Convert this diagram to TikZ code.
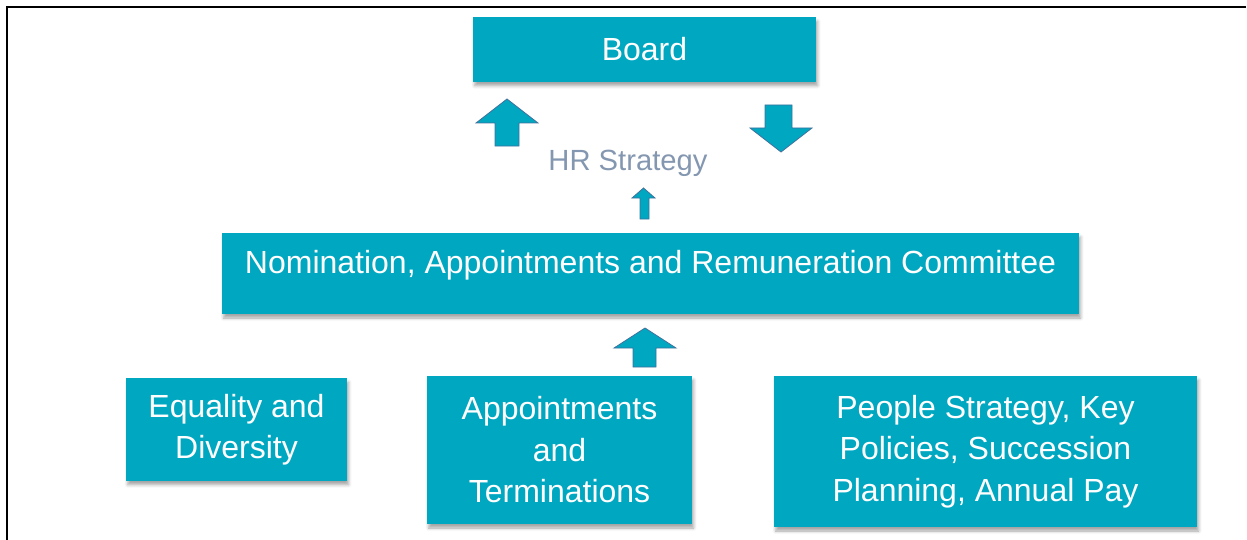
\documentclass[tikz,border=0pt]{standalone}
\usepackage{fontspec}
\setmainfont{Liberation Sans}
\usepackage{xcolor}
\usetikzlibrary{shadows.blur}
\definecolor{hrTeal}{RGB}{0, 167, 193}
\definecolor{hrEdge}{RGB}{65, 113, 156}
\definecolor{hrGrey}{RGB}{132, 151, 176}

\tikzset{
  hrbox/.style={fill=hrTeal,text=white,inner sep=0pt,align=center,
    font=\fontsize{16pt}{20.75pt}\selectfont,
    blur shadow={shadow xshift=0.8pt,shadow yshift=-2pt,shadow blur radius=1.5pt,shadow opacity=35}},
  blockarrow/.style={fill=hrTeal,draw=hrEdge,line width=0.4pt,line join=miter}
}

\begin{document}
\begin{tikzpicture}[x=0.5pt,y=-0.5pt]
            \useasboundingbox (0,0) rectangle (1247,540);
            % Frame
            \draw[line width=1pt] (7,540) -- (7,7.5) -- (1246,7.5);

            % Board
            \node[hrbox,minimum width=171.5pt,minimum height=32.25pt] (board) at (644.5,49.5) {Board};

            % HR Strategy
            \node[text=hrGrey,font=\fontsize{14.6pt}{17pt}\selectfont,anchor=base] (strategy) at (628,170) {HR Strategy};
            \filldraw[blockarrow] (507,99) -- (538,123) -- (519,123) -- (519,146) -- (495,146) -- (495,123) -- (476,123) -- cycle;
            \filldraw[blockarrow] (781,152) -- (812,128) -- (792,128) -- (792,105) -- (765,105) -- (765,128) -- (750,128) -- cycle;
            \filldraw[blockarrow] (643.5,188) -- (655,198) -- (649,198) -- (649,219) -- (640,219) -- (640,198) -- (632,198) -- cycle;

            % Committee
            \node[hrbox,minimum width=428.5pt,minimum height=40.5pt,text height=12pt,text depth=12pt] (committee) at (650.5,273.5) {Nomination, Appointments and Remuneration Committee};
            \filldraw[blockarrow] (645,328) -- (676,348) -- (656,348) -- (656,367) -- (633,367) -- (633,348) -- (614,348) -- cycle;

            % Areas
            \node[hrbox,minimum width=110.5pt,minimum height=51.25pt] (equality) at (236.5,429.5) {Equality and\\Diversity};
            \node[hrbox,minimum width=132.5pt,minimum height=74pt] (appointments) at (559.5,450) {Appointments\\and\\Terminations};
            \node[hrbox,minimum width=211.5pt,minimum height=75.5pt] (people) at (985.5,451.5) {People Strategy, Key\\Policies, Succession\\Planning, Annual Pay};
        \end{tikzpicture}
\end{document}
